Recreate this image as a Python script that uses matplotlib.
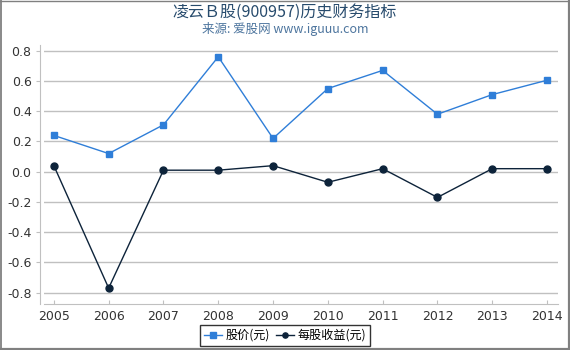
import matplotlib
matplotlib.use('Agg')
import matplotlib.pyplot as plt
from matplotlib.lines import Line2D

plt.rcParams['font.family'] = ['DejaVu Sans', 'Noto Sans CJK SC']

years = [2005, 2006, 2007, 2008, 2009, 2010, 2011, 2012, 2013, 2014]
price = [0.24, 0.12, 0.31, 0.76, 0.22, 0.55, 0.67, 0.38, 0.51, 0.605]
eps = [0.04, -0.77, 0.01, 0.01, 0.04, -0.07, 0.02, -0.17, 0.02, 0.02]
yticks = [0.8, 0.6, 0.4, 0.2, 0.0, -0.2, -0.4, -0.6, -0.8]

cjk = ['Noto Sans CJK SC', 'DejaVu Sans']
W, H = 570, 350

fig = plt.figure(figsize=(5.7, 3.5), dpi=100)
ax = fig.add_axes([44/W, 1-304/H, (558-44)/W, 259/H])

ax.plot(years, price, color='#2f7ed8', lw=1, marker='s', ms=5, label='股价(元)')
ax.plot(years, eps, color='#0d233a', lw=1, marker='o', ms=5, label='每股收益(元)')

ax.set_xlim(2004.82, 2014.2)
ax.set_ylim(-0.875, 0.838)
ax.set_xticks(years)
ax.set_yticks(yticks)
ax.set_yticklabels(['%.1f' % v for v in yticks])
ax.grid(axis='y', color='#c0c0c0', lw=1)
ax.set_axisbelow(True)
for s in ['top', 'right']:
    ax.spines[s].set_visible(False)
ax.spines['left'].set_position(('outward', 3))
ax.spines['left'].set_color('#c0c0c0')
ax.spines['bottom'].set_color('#c0c0c0')
ax.tick_params(axis='y', direction='out', length=3, color='#c0c0c0', labelcolor='#333333', labelsize=9, pad=3)
ax.tick_params(axis='x', direction='in', length=3, color='#c0c0c0', labelcolor='#333333', labelsize=9, pad=4)

fig.text(0.5, 1-12/H, '凌云Ｂ股(900957)历史财务指标', ha='center', va='center',
         fontsize=11.5, color='#274b6d', family=cjk)
fig.text(0.5, 1-28.5/H, '来源: 爱股网 www.iguuu.com', ha='center', va='center',
         fontsize=9, color='#4d759e', family=cjk)

leg = fig.legend(loc='center', bbox_to_anchor=(285/W, 1-335.5/H), ncol=2,
                 prop={'family': cjk, 'size': 8.7}, frameon=True, fancybox=False,
                 handlelength=1.5, handletextpad=0.3, columnspacing=0.5,
                 borderpad=0.3, borderaxespad=0, markerscale=0.75)
leg.get_frame().set_edgecolor('black')
leg.get_frame().set_linewidth(1)

# outer frame: thin top/left, heavier right/bottom
grey = '#808080'
fig.add_artist(Line2D([0, 1], [1-0.5/H, 1-0.5/H], transform=fig.transFigure, color=grey, lw=1))
fig.add_artist(Line2D([0.8/W, 0.8/W], [0, 1], transform=fig.transFigure, color=grey, lw=1.3))
fig.add_artist(Line2D([1-1.5/W, 1-1.5/W], [0, 1], transform=fig.transFigure, color=grey, lw=2.3))
fig.add_artist(Line2D([0, 1], [1.5/H, 1.5/H], transform=fig.transFigure, color=grey, lw=2.3))

fig.savefig('out.png', dpi=100)
